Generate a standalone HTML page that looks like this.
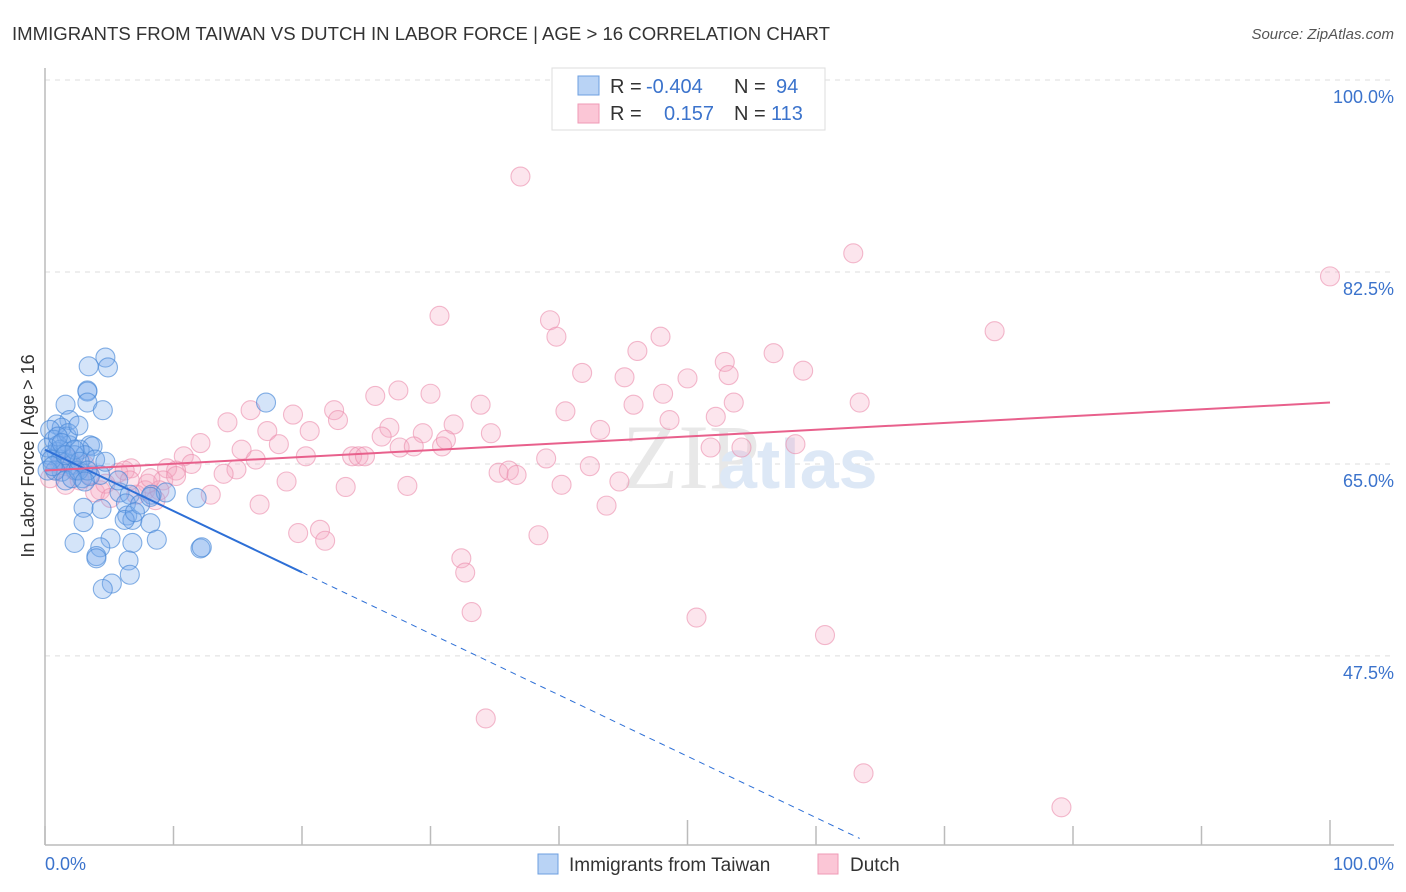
<!DOCTYPE html>
<html><head><meta charset="utf-8"><style>
body{margin:0;background:#fff;}
svg{display:block;font-family:"Liberation Sans",sans-serif;}
</style></head><body>
<svg id="chart" width="1406" height="892" viewBox="0 0 1406 892">
<text x="12" y="40" font-size="18" fill="#333" textLength="818" lengthAdjust="spacingAndGlyphs">IMMIGRANTS FROM TAIWAN VS DUTCH IN LABOR FORCE | AGE &gt; 16 CORRELATION CHART</text>
<text x="1394" y="39" font-size="15" fill="#555" font-style="italic" text-anchor="end">Source: ZipAtlas.com</text>
<g id="grid"></g>
<text x="622" y="488" font-size="92" fill="#e8e8e8" font-family="Liberation Serif,serif">ZIP</text>
<text x="718" y="488" font-size="70" fill="#dde8f6" font-weight="bold">atlas</text>
<g id="axes"></g>
<g id="pink"></g>
<g id="blue"></g>
<g id="trends"></g>
<text x="34" y="456" font-size="18" fill="#333" text-anchor="middle" transform="rotate(-90 34 456)">In Labor Force | Age &gt; 16</text>
<text x="45" y="870" font-size="18" fill="#3b73cc">0.0%</text>
<text x="1394" y="870" font-size="18" fill="#3b73cc" text-anchor="end">100.0%</text>
<g>
<rect x="552" y="68" width="273" height="62" fill="#fff" stroke="#ddd"/>
<rect x="578" y="76" width="21" height="19" fill="#b9d3f5" stroke="#6d9fe0"/>
<rect x="578" y="104" width="21" height="19" fill="#fbc6d6" stroke="#ef9ab6"/>
<text y="93" font-size="20"><tspan x="610" fill="#333">R = </tspan><tspan x="646" fill="#3b73cc">-0.404</tspan><tspan x="734" fill="#333">N = </tspan><tspan x="776" fill="#3b73cc">94</tspan></text>
<text y="120" font-size="20"><tspan x="610" fill="#333">R = </tspan><tspan x="664" fill="#3b73cc">0.157</tspan><tspan x="734" fill="#333">N = </tspan><tspan x="771" fill="#3b73cc">113</tspan></text>
</g>
<g>
<rect x="538" y="854" width="20" height="20" fill="#b9d3f5" stroke="#6d9fe0"/>
<text x="569" y="871" font-size="19" fill="#333">Immigrants from Taiwan</text>
<rect x="818" y="854" width="20" height="20" fill="#fbc6d6" stroke="#ef9ab6"/>
<text x="850" y="871" font-size="19" fill="#333">Dutch</text>
</g>
</svg>
<script>
const yTicks=[100,82.5,65,47.5];
const yTickLabels=["100.0%","82.5%","65.0%","47.5%"];
const xTicks=[0,10,20,30,40,50,60,70,80,90,100];
const blueX=[4.7,4.9,3.4,3.3,3.3,1.6,3.3,4.5,17.2,1.9,0.9,1.3,0.4,0.7,1.7,3.5,3.7,1.9,0.9,2.7,3.1,0.4,1.2,1.6,2.1,2.4,1.3,2.9,3.5,0.8,1.6,2.6,4.3,5.8,6.6,8.3,9.4,11.8,3.0,4.4,6.3,6.4,6.8,8.2,6.2,3.0,2.3,5.1,6.8,8.7,4.3,4.0,4.0,6.5,6.6,5.2,4.5,12.1,12.2,1.0,1.2,0.2,0.5,2.3,3.9,4.7,1.8,2.6,1.0,1.3,2.3,2.7,3.3,0.2,0.6,1.6,2.1,3.1,7.4,8.2,5.7,7.0];
const blueY=[74.7,73.8,73.9,71.7,71.6,70.4,70.6,69.9,70.6,69.0,68.6,68.3,68.1,67.2,67.5,66.7,66.6,66.7,66.1,66.3,65.8,65.8,65.4,65.1,64.9,64.4,64.3,63.7,63.9,64.4,63.5,64.4,64.0,62.4,62.2,62.2,62.4,61.9,61.0,60.9,61.4,60.3,59.9,59.6,59.9,59.7,57.8,58.2,57.8,58.1,57.4,56.6,56.4,56.2,54.9,54.1,53.6,57.3,57.4,66.7,66.3,66.5,65.4,65.8,65.4,65.2,67.8,68.5,67.5,66.9,66.3,65.2,64.4,64.4,64.8,65.8,63.7,63.4,61.3,62.0,63.5,60.6];
const pinkX=[37.0,62.9,100,30.7,39.3,39.8,73.9,47.9,46.1,56.7,52.9,41.8,59.0,45.1,53.2,50.0,27.5,25.7,30.0,48.1,53.6,63.4,33.9,45.8,40.5,16.0,14.2,19.3,22.5,52.2,48.6,22.8,31.8,17.3,26.8,20.6,34.7,26.2,29.4,43.2,12.1,15.3,18.2,30.9,31.2,27.6,28.7,58.4,54.2,51.8,10.8,16.4,20.3,23.9,24.4,24.9,39.0,11.4,14.9,10.2,9.5,6.7,5.7,13.9,18.8,23.4,28.2,35.3,36.1,36.7,42.4,40.2,44.7,8.0,9.2,7.1,10.2,12.9,16.7,43.7,19.7,21.4,21.8,38.4,32.4,32.7,33.2,50.7,60.7,34.3,63.7,79.1,4.3,3.9,4.7,0.4,0.8,1.2,1.9,2.3,2.7,3.5,1.6,3.1,5.1,6.2,7.8,8.6,6.6,8.9,8.2];
const pinkY=[91.2,84.2,82.1,78.5,78.1,76.6,77.1,76.6,75.3,75.1,74.3,73.3,73.5,72.9,73.1,72.8,71.7,71.2,71.4,71.4,70.6,70.6,70.4,70.4,69.8,69.9,68.8,69.5,69.9,69.3,69.0,69.0,68.6,68.0,68.3,68.0,67.8,67.5,67.8,68.1,66.9,66.3,66.8,66.6,67.2,66.5,66.6,66.8,66.5,66.5,65.7,65.4,65.7,65.7,65.7,65.7,65.5,65.0,64.5,64.4,64.6,64.6,64.2,64.1,63.4,62.9,63.0,64.2,64.4,64.0,64.8,63.1,63.4,63.2,63.5,62.2,63.9,62.2,61.3,61.2,58.7,59.0,58.0,58.5,56.4,55.1,51.5,51.0,49.4,41.8,36.8,33.7,62.6,62.4,63.2,63.7,64.4,64.9,65.4,64.4,63.5,64.0,63.1,64.9,61.9,64.4,62.6,61.7,63.5,62.6,63.7];
const blueTrend=[66.3,-0.559];
const blueSolidEnd=20;
const blueDashEnd=63.4;
const pinkTrend=[64.4,70.6];

const NS="http://www.w3.org/2000/svg";
const sx=v=>45+v*12.85;
const sy=v=>80+(100-v)*10.97;
function mk(tag,attrs,parent){const e=document.createElementNS(NS,tag);for(const k in attrs)e.setAttribute(k,attrs[k]);parent.appendChild(e);return e;}
const grid=document.getElementById('grid');
yTicks.forEach((t,i)=>{
  const l=mk('line',{x1:45,x2:1394,y1:sy(t),y2:sy(t),stroke:'#ddd','stroke-dasharray':'5,5'},grid);
  
  
  const tx=mk('text',{x:1394,y:sy(t)+23,'font-size':18,fill:'#3b73cc','text-anchor':'end'},grid);
  tx.textContent=yTickLabels[i];
  
  
});
const axes=document.getElementById('axes');
const ya=mk('line',{x1:45,x2:45,y1:68,y2:845,stroke:'#bbb','stroke-width':1.5},axes);


const xa=mk('line',{x1:45,x2:1394,y1:845,y2:845,stroke:'#bbb','stroke-width':1.5},axes);


xTicks.forEach(t=>{
  const tall=(t===50||t===100);
  const l=mk('line',{x1:sx(t),x2:sx(t),y1:tall?820:826,y2:845,stroke:'#bbb','stroke-width':1.5},axes);
  
  
});
const pg=document.getElementById('pink');
pinkX.forEach((x,i)=>{
  const c=mk('circle',{cx:sx(x),cy:sy(pinkY[i]),r:9.5,fill:'rgba(246,170,196,0.3)',stroke:'rgba(235,140,172,0.6)','stroke-width':1.1},pg);
  
  
});
const bg=document.getElementById('blue');
blueX.forEach((x,i)=>{
  const c=mk('circle',{cx:sx(x),cy:sy(blueY[i]),r:9.5,fill:'rgba(120,170,235,0.32)',stroke:'rgba(70,135,215,0.65)','stroke-width':1.1},bg);
  
  
});
const tg=document.getElementById('trends');
const bl=x=>blueTrend[0]+blueTrend[1]*x;
const b1=mk('line',{x1:sx(0),y1:sy(bl(0)),x2:sx(blueSolidEnd),y2:sy(bl(blueSolidEnd)),stroke:'#2d6fd6','stroke-width':2},tg);


const b2=mk('line',{x1:sx(blueSolidEnd),y1:sy(bl(blueSolidEnd)),x2:sx(blueDashEnd),y2:sy(bl(blueDashEnd)),stroke:'#2d6fd6','stroke-width':1,'stroke-dasharray':'6,5'},tg);


const p1=mk('line',{x1:sx(0),y1:sy(pinkTrend[0]),x2:sx(100),y2:sy(pinkTrend[1]),stroke:'#e8608c','stroke-width':2},tg);


</script>
</body></html>
